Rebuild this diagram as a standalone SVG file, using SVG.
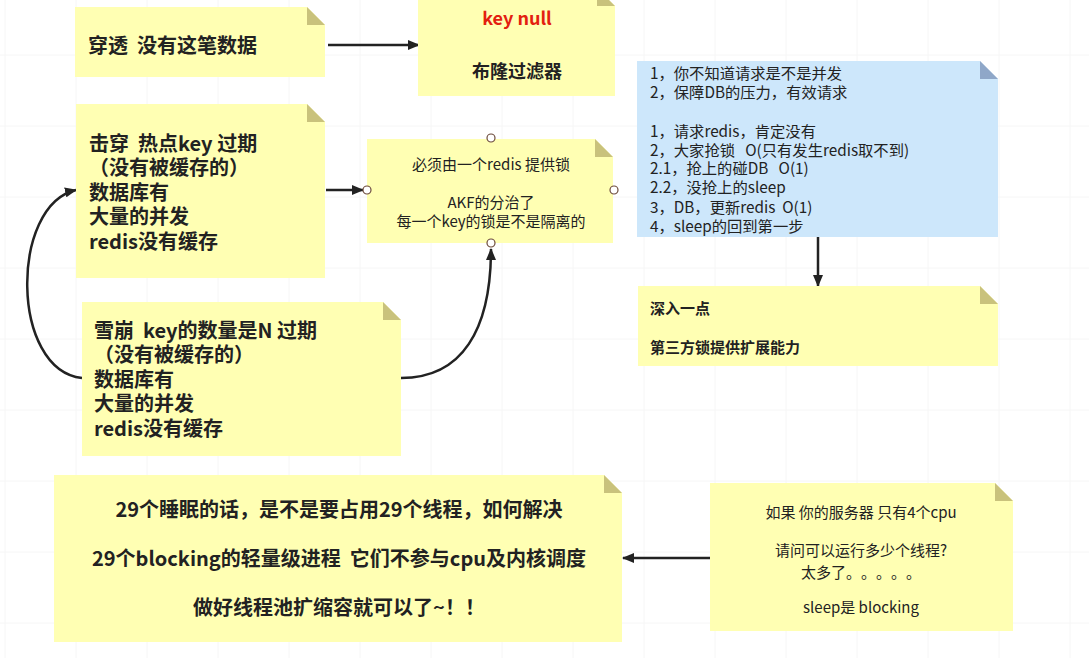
<svg xmlns="http://www.w3.org/2000/svg" width="1089" height="658" viewBox="0 0 1089 658">
<defs>
<style>
.note{fill:#ffffb3}
.fold{fill:#c9c27c}
.bnote{fill:#cde7fb}
.bfold{fill:#8fa7c8}
.t{font-family:"Noto Sans CJK SC","Liberation Sans",sans-serif;fill:#222;white-space:pre;text-spacing-trim:space-all}
.b{font-weight:700}
.c{text-anchor:middle}
.edge{fill:none;stroke:#222;stroke-width:2.5}
.pt{fill:#fff;stroke:#6b4a3a;stroke-width:1.2}
.grid{stroke:#f6f6f6;stroke-width:1}
</style>
<marker id="arr" viewBox="0 0 12 10" refX="11" refY="5" markerWidth="12" markerHeight="10" markerUnits="userSpaceOnUse" orient="auto">
<path d="M0,0 L12,5 L0,10 Z" fill="#222"/>
</marker>
</defs>
<rect width="1089" height="658" fill="#fff"/>
<g id="grid">
<path class="grid" d="M5 0V658M76 0V658M147 0V658M218 0V658M289 0V658M360 0V658M431 0V658M502 0V658M573 0V658M644 0V658M715 0V658M786 0V658M857 0V658M928 0V658M999 0V658M1070 0V658M0 55H1089M0 126H1089M0 197H1089M0 268H1089M0 339H1089M0 410H1089M0 481H1089M0 552H1089M0 623H1089"/>
</g>
<g id="connectors">
<path class="edge" d="M328 45 H419" marker-end="url(#arr)"/>
<path class="edge" d="M326 190 H363" marker-end="url(#arr)"/>
<path class="edge" d="M82 378 C10 370 10 205 76 190" marker-end="url(#arr)"/>
<path class="edge" d="M401 378 C462 378 491 330 491 249" marker-end="url(#arr)"/>
<path class="edge" d="M818 237 V286" marker-end="url(#arr)"/>
<path class="edge" d="M710 558 H623" marker-end="url(#arr)"/>
</g>
<g id="n-chuantou">
<path class="note" d="M75 7 H307 L325 25 V77 H75 Z"/>
<path class="fold" d="M307 7 V25 H325 Z"/>
<text class="t b" x="88" y="53" font-size="20">穿透&#160;&#160;没有这笔数据</text>
</g>
<g id="n-keynull">
<path class="note" d="M418 -12 H597 L615 6 V96 H418 Z"/>
<path class="fold" d="M597 -12 V6 H615 Z"/>
<text class="t b c" x="517" y="25" font-size="18" style="fill:#e3200f">key null</text>
<text class="t b c" x="517" y="78" font-size="18">布隆过滤器</text>
</g>
<g id="n-blue">
<path class="bnote" d="M637 61 H980 L998 79 V237 H637 Z"/>
<path class="bfold" d="M980 61 V79 H998 Z"/>
<g class="t" font-size="15.3">
<text x="650" y="78.5">1，你不知道请求是不是并发</text>
<text x="650" y="98">2，保障DB的压力，有效请求</text>
<text x="650" y="136.5">1，请求redis，肯定没有</text>
<text x="650" y="155.5">2，大家抢锁&#160;&#160;&#160;O(只有发生redis取不到)</text>
<text x="650" y="174">2.1，抢上的碰DB&#160;&#160;&#160;O(1)</text>
<text x="650" y="193">2.2，没抢上的sleep</text>
<text x="650" y="212.5">3，DB，更新redis&#160;&#160;O(1)</text>
<text x="650" y="231.5">4，sleep的回到第一步</text>
</g>
</g>
<g id="n-jichuan">
<path class="note" d="M76 104 H307 L325 122 V278 H76 Z"/>
<path class="fold" d="M307 104 V122 H325 Z"/>
<g class="t b" font-size="20">
<text x="89" y="150.5">击穿&#160;&#160;热点key 过期</text>
<text x="89" y="175">（没有被缓存的）</text>
<text x="89" y="199.5">数据库有</text>
<text x="89" y="224">大量的并发</text>
<text x="89" y="248.5">redis没有缓存</text>
</g>
</g>
<g id="n-lock">
<path class="note" d="M367 139 H595 L613 157 V243 H367 Z"/>
<path class="fold" d="M595 139 V157 H613 Z"/>
<g class="t c" font-size="15">
<text x="491" y="169.5">必须由一个redis 提供锁</text>
<text x="491" y="207.5">AKF的分治了</text>
<text x="491" y="226.5">每一个key的锁是不是隔离的</text>
</g>
<circle class="pt" cx="491" cy="138" r="4"/>
<circle class="pt" cx="367" cy="190" r="4"/>
<circle class="pt" cx="614" cy="190" r="4"/>
<circle class="pt" cx="491" cy="243" r="4"/>
</g>
<g id="n-xuebeng">
<path class="note" d="M82 302 H383 L401 320 V456 H82 Z"/>
<path class="fold" d="M383 302 V320 H401 Z"/>
<g class="t b" font-size="20">
<text x="94" y="337.5">雪崩&#160;&#160;key的数量是N 过期</text>
<text x="94" y="362">（没有被缓存的）</text>
<text x="94" y="386.5">数据库有</text>
<text x="94" y="411">大量的并发</text>
<text x="94" y="435.5">redis没有缓存</text>
</g>
</g>
<g id="n-deeper">
<path class="note" d="M638 286 H980 L998 304 V366 H638 Z"/>
<path class="fold" d="M980 286 V304 H998 Z"/>
<text class="t b" x="650" y="313.5" font-size="15">深入一点</text>
<text class="t b" x="650" y="352.5" font-size="15">第三方锁提供扩展能力</text>
</g>
<g id="n-threads">
<path class="note" d="M54 475 H604 L622 493 V642 H54 Z"/>
<path class="fold" d="M604 475 V493 H622 Z"/>
<g class="t b c" font-size="20">
<text x="339" y="516.5">29个睡眠的话，是不是要占用29个线程，如何解决</text>
<text x="339" y="565.5">29个blocking的轻量级进程&#160;&#160;它们不参与cpu及内核调度</text>
<text x="339" y="614.5">做好线程池扩缩容就可以了~！！</text>
</g>
</g>
<g id="n-cpu">
<path class="note" d="M710 483 H995 L1013 501 V631 H710 Z"/>
<path class="fold" d="M995 483 V501 H1013 Z"/>
<g class="t c" font-size="15">
<text x="861" y="517.5">如果 你的服务器 只有4个cpu</text>
<text x="861" y="555.5">请问可以运行多少个线程?</text>
<text x="861" y="577.5">太多了。。。。。</text>
<text x="861" y="612.5">sleep是 blocking</text>
</g>
</g>
</svg>
